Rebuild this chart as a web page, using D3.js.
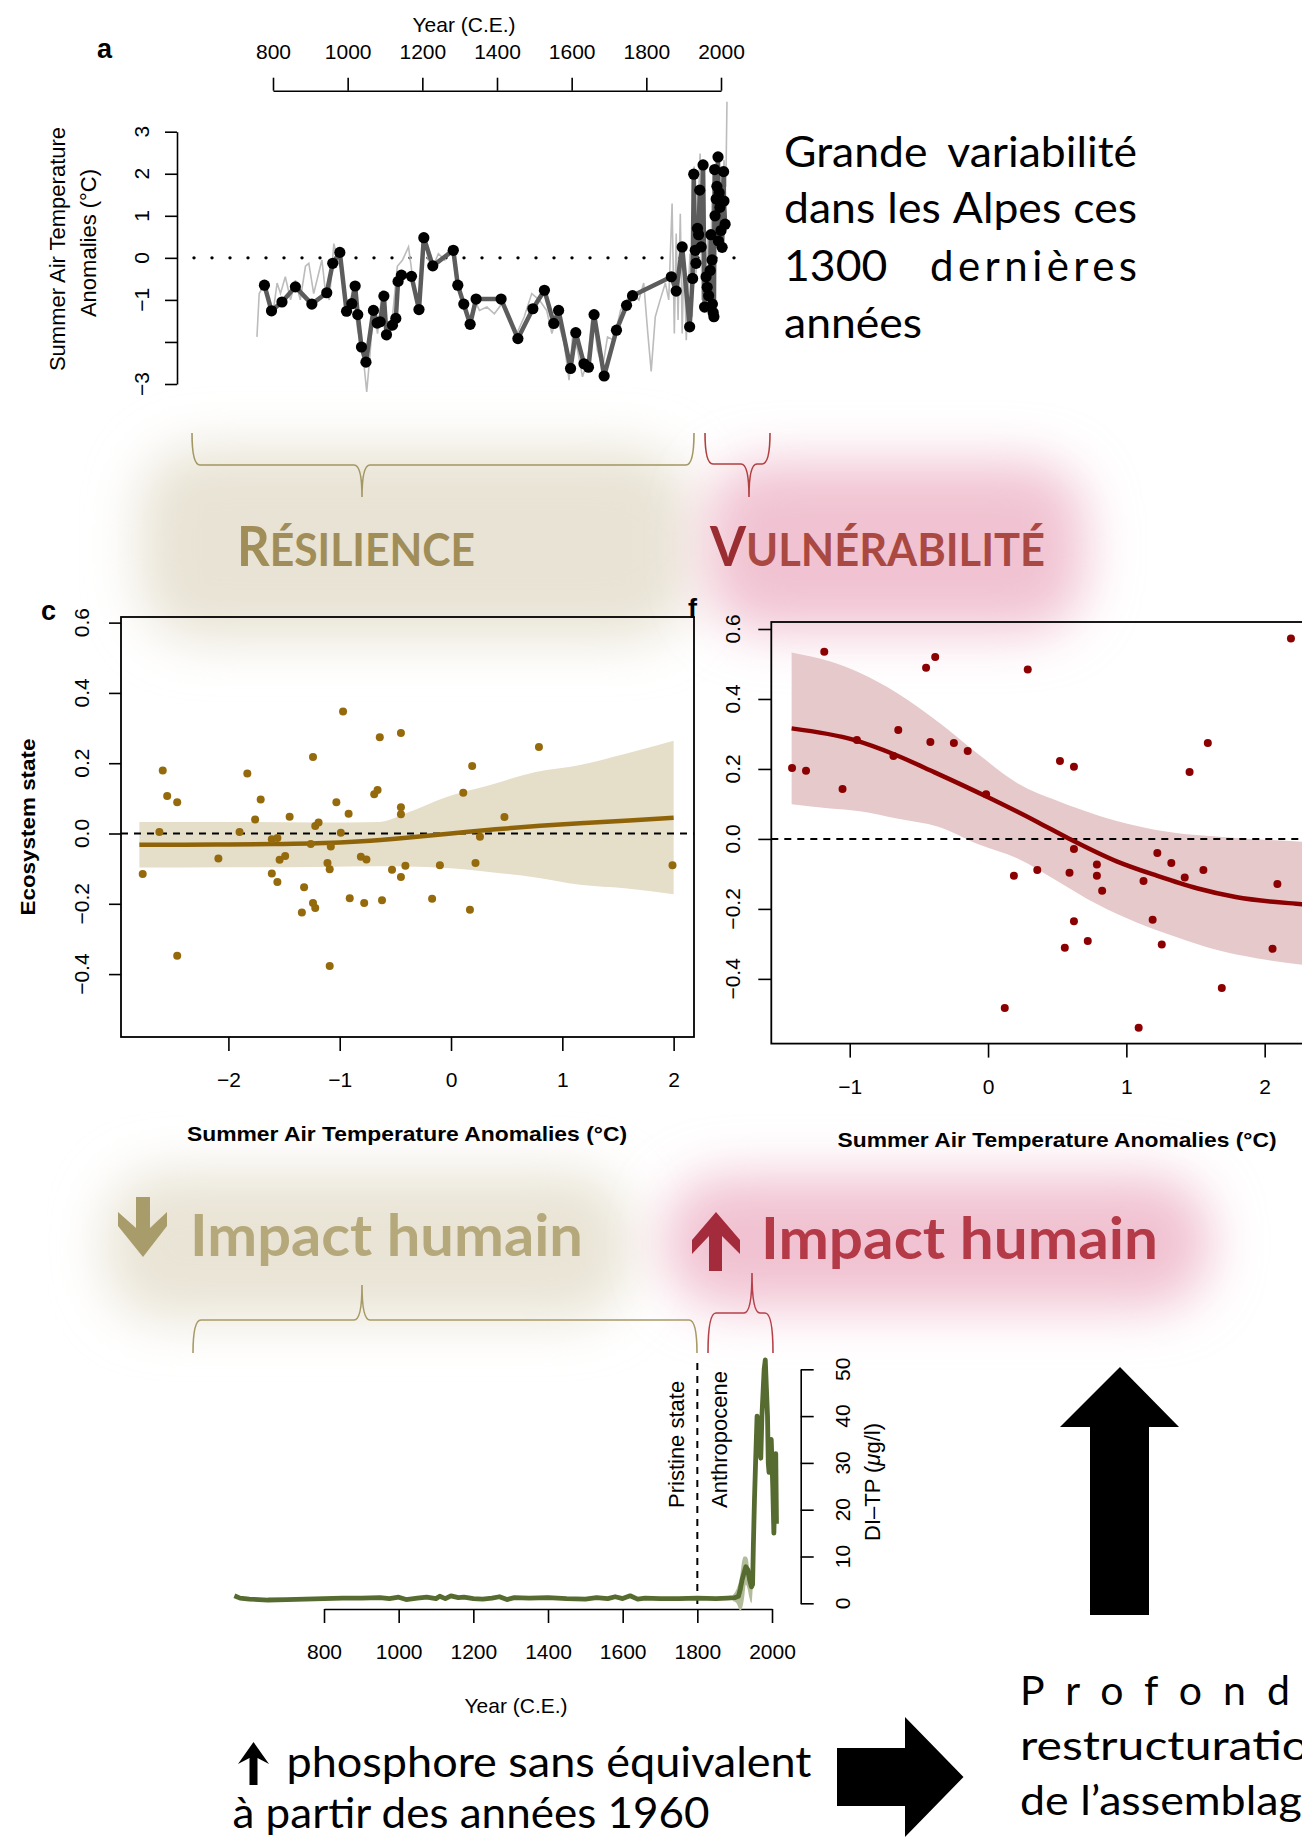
<!DOCTYPE html>
<html>
<head>
<meta charset="utf-8">
<script src="https://cdn.jsdelivr.net/npm/d3@7"></script>
<style>
  body { margin: 0; background: #fff; }
  svg text { font-family: "Liberation Sans", Arial, sans-serif; }
  svg .cal, svg .cal text { font-family: Lato, "Open Sans", sans-serif; }
</style>
</head>
<body>
<svg id="fig" width="1302" height="1847"></svg>
<script>
// --------------------
// Data
// --------------------

// panel a : summer air temperature anomalies (black dots = chironomid record)
const yearTicks = [800, 1000, 1200, 1400, 1600, 1800, 2000];
const tempTicks = [3, 2, 1, 0, -1, -2, -3];
const tempTickLabels = ["3", "2", "1", "0", "−1", "", "−3"];

const tempYears = [777,796,824,860,904,944,960,979,997,1011,1020,1027,1037,1049,1069,1079,1087,1097,1104,1120,
  1129,1135,1144,1171,1191,1204,1228,1283,1295,1311,1328,1344,1411,1456,1496,1527,1552,1565,1597,1611,
  1633,1645,1660,1687,1720,1747,1763,1867,1880,1896,1916,1924,1927,1931,1933,1937,1940,1943,1947,1952,
  1956,1960,1963,1967,1971,1973,1976,1977,1979,1981,1983,1984,1987,1989,1992,1993,1995,1997,2000,2003,
  2007,2008,2011];
const tempVals = [-0.65,-1.26,-1.05,-0.69,-1.10,-0.83,-0.13,0.13,-1.27,-1.09,-0.67,-1.35,-2.12,-2.48,-1.25,-1.55,-1.52,-0.91,-1.83,-1.60,
  -1.44,-0.56,-0.41,-0.44,-1.23,0.48,-0.19,0.18,-0.65,-1.10,-1.58,-0.98,-0.98,-1.92,-1.21,-0.77,-1.56,-1.25,-2.63,-1.78,
  -2.52,-2.60,-1.35,-2.81,-1.72,-1.13,-0.90,-0.45,-0.79,0.26,-1.64,-0.49,1.99,0.18,-0.13,0.70,0.55,1.61,0.26,2.21,
  -1.17,-0.45,-0.70,-0.90,-0.30,0.55,-0.05,-1.10,-1.30,-1.40,2.10,1.00,1.40,1.70,2.40,0.40,1.55,1.20,0.65,0.25,
  2.05,1.35,0.80];

// light grey instrumental / high resolution record
const rawYears = [757,763,773,787,800,811,820,833,847,860,873,887,896,909,920,931,940,951,963,973,
  987,1000,1013,1027,1040,1051,1060,1069,1080,1093,1107,1120,1133,1147,1163,1176,1189,1203,1216,1229,
  1243,1260,1273,1287,1300,1313,1327,1340,1353,1373,1393,1413,1433,1453,1473,1493,1513,1533,1547,1560,
  1580,1593,1603,1616,1629,1643,1656,1669,1683,1696,1713,1731,1747,1763,1780,1793,1804,1813,1824,1837,
  1851,1860,1869,1875,1880,1885,1891,1896,1901,1907,1912,1917,1923,1928,1933,1939,1944,1949,1955,1960,
  1965,1971,1976,1981,1987,1992,1997,2003,2008,2013,2016];
const rawVals = [-1.88,-0.85,-0.69,-1.0,-1.3,-0.6,-0.85,-0.45,-1.0,-0.53,-1.0,-0.2,-0.13,-0.85,-0.45,-0.05,-0.77,-1.0,0.34,-0.05,
  -0.37,-1.4,-0.77,-1.72,-2.2,-3.19,-2.28,-1.17,-1.8,-0.77,-1.96,-1.4,-0.2,-0.05,0.26,-0.6,-1.25,0.58,-0.05,-0.2,
  0.1,-0.05,0.26,0.02,-0.77,-1.25,-1.48,-1.0,-1.25,-1.17,-1.33,-1.09,-1.48,-1.8,-1.4,-0.85,-1.0,-1.25,-1.8,-1.4,
  -2.04,-2.91,-1.8,-2.2,-2.83,-2.44,-1.25,-2.2,-2.6,-1.88,-1.96,-1.25,-1.0,-0.85,-1.0,-0.6,-1.8,-2.7,-1.4,-1.0,
  -0.6,-1.0,1.29,-1.8,0.58,-1.48,1.05,-1.8,0.1,-1.96,-0.85,0.1,-1.4,2.17,-0.37,1.21,2.48,-1.0,1.69,-0.6,
  0.58,-1.0,1.37,-0.37,1.77,0.58,2.17,1.21,2.33,1.69,3.71];

// panel c : ecosystem state vs temperature, pre-1800 (resilience)
const stateTicks = [-0.4, -0.2, 0, 0.2, 0.4, 0.6];
const anomTicksC = [-2, -1, 0, 1, 2];
const cTemp = [-2.77,-2.62,-2.59,-2.55,-2.46,-2.46,-2.09,-1.90,-1.83,-1.76,-1.71,-1.61,-1.61,-1.56,-1.56,-1.54,-1.49,-1.45,-1.32,-1.34,
  -1.26,-1.24,-1.24,-1.22,-1.22,-1.19,-1.11,-1.09,-1.08,-1.09,-1.03,-0.99,-0.97,-0.92,-0.91,-0.81,-0.78,-0.76,-0.69,-0.66,
  -0.64,-0.62,-0.53,-0.45,-0.45,-0.45,-0.45,-0.41,-0.17,-0.10,0.11,0.17,0.19,0.22,0.26,0.48,0.79,1.99];
const cState = [-0.115,0.004,0.179,0.107,0.089,-0.348,-0.071,0.004,0.171,0.040,0.097,-0.114,-0.016,-0.013,-0.138,-0.075,-0.064,0.048,-0.153,-0.225,
  -0.030,0.218,-0.198,-0.212,0.021,0.031,-0.084,-0.102,-0.037,-0.377,0.089,0.002,0.347,0.056,-0.184,-0.066,-0.198,-0.074,0.112,0.124,
  0.274,-0.190,-0.103,0.286,0.075,0.055,-0.124,-0.092,-0.186,-0.090,0.116,-0.217,0.192,-0.084,-0.009,0.047,0.246,-0.090];
const cFitX = [-2.8,-2.4,-2.0,-1.6,-1.2,-0.8,-0.4,0,0.4,0.8,1.2,1.6,2.0];
const cFitY = [-0.032,-0.032,-0.031,-0.030,-0.028,-0.022,-0.012,0.0,0.012,0.022,0.030,0.037,0.045];
const cBandX = [-2.8,-2.0,-1.2,-0.64,-0.4,-0.04,0.36,0.76,1.16,1.56,2.0];
const cBandHi = [0.033,0.033,0.031,0.033,0.058,0.104,0.139,0.175,0.195,0.226,0.264];
const cBandLo = [-0.097,-0.096,-0.095,-0.093,-0.094,-0.098,-0.110,-0.125,-0.146,-0.156,-0.173];

// panel f : ecosystem state vs temperature, post-1800 (vulnerability)
const anomTicksF = [-1, 0, 1, 2];
const fTemp = [-1.417,-1.316,-1.184,-1.052,-0.948,-0.684,-0.649,-0.448,-0.417,-0.382,-0.247,-0.147,-0.014,0.121,0.187,0.287,0.356,0.520,0.555,0.589,
  0.621,0.621,0.621,0.721,0.787,0.787,0.825,1.089,1.124,1.190,1.224,1.256,1.325,1.422,1.457,1.557,1.589,1.690,2.057,2.092,2.190];
const fState = [0.203,0.195,0.535,0.143,0.283,0.237,0.311,0.489,0.277,0.520,0.274,0.251,0.128,-0.483,-0.105,0.484,-0.089,0.223,-0.311,-0.097,
  0.206,-0.029,-0.235,-0.292,-0.073,-0.105,-0.148,-0.540,-0.120,-0.231,-0.040,-0.302,-0.069,-0.110,0.191,-0.089,0.274,-0.426,-0.314,-0.129,0.573];
const fFitX = [-1.42,-0.97,-0.68,-0.39,0,0.36,0.59,0.93,1.22,1.51,1.79,2.28,2.4];
const fFitY = [0.316,0.283,0.242,0.191,0.119,0.048,0.0,-0.064,-0.105,-0.141,-0.166,-0.187,-0.191];
const fBandX = [-1.42,-1.14,-0.94,-0.65,-0.36,-0.07,0.21,0.50,0.79,1.07,1.36,1.65,1.94,2.28,2.4];
const fBandHi = [0.533,0.507,0.477,0.415,0.334,0.242,0.160,0.109,0.068,0.038,0.017,0.007,-0.001,-0.008,-0.010];
const fBandLo = [0.099,0.087,0.080,0.058,0.035,-0.015,-0.055,-0.120,-0.187,-0.238,-0.280,-0.317,-0.341,-0.360,-0.365];

// bottom panel : diatom-inferred total phosphorus
const tpTicks = [0, 10, 20, 30, 40, 50];
const tpYears = [560,575,600,650,700,750,800,850,900,950,975,1000,1020,1050,1075,1100,1110,1125,1140,1160,
  1175,1200,1225,1250,1270,1290,1310,1350,1400,1450,1500,1530,1560,1580,1600,1620,1640,1660,1700,1750,
  1800,1850,1880,1900,1910,1915,1920,1925,1930,1935,1940,1945,1948,1950,1953,1956,1960,1963,1966,1970,
  1973,1976,1979,1982,1985,1988,1990,1992,1995,1998,2002,2005,2008,2010,2012];
const tpVals = [1.6,1.1,0.9,0.7,0.8,0.9,1.0,1.1,1.1,1.2,1.0,1.3,0.8,1.1,1.3,1.0,1.5,1.0,1.6,1.2,
  1.3,1.0,0.9,1.1,1.4,0.8,1.2,1.1,1.2,1.0,0.9,1.2,1.0,1.4,1.0,1.6,0.9,1.1,1.0,1.0,
  1.1,1.0,1.1,1.2,1.5,3,5,6.5,7.8,7.2,5,3.5,4,12,22,30,40,38,33,31,
  40,45,50,52,46,40,30,28,32,35,25,15,25,32,17];
const tpBandYears = [1895,1905,1915,1920,1925,1930,1935,1940,1945,1950];
const tpBandLo = [0.5,0,-1.5,-1,1,4,3,1,0,6];
const tpBandHi = [1.8,3,6,9,10,10,9.5,7,6,14];

// --------------------
// Drawing
// --------------------
const svg = d3.select("#fig");
const defs = svg.append("defs");
defs.append("filter").attr("id", "soft")
  .attr("x", "-50%").attr("y", "-80%").attr("width", "200%").attr("height", "260%")
  .append("feGaussianBlur").attr("stdDeviation", 26);

// soft coloured glows behind the labels
const glows = [
  { x: 140, y: 448, w: 550, h: 192, c: "#e8e3d4" },
  { x: 705, y: 462, w: 380, h: 170, c: "#f1c3d2" },
  { x: 105, y: 1172, w: 525, h: 148, c: "#e9e4d5" },
  { x: 665, y: 1176, w: 545, h: 132, c: "#f1c2d1" }
];
svg.append("g").selectAll("rect").data(glows).join("rect")
  .attr("x", d => d.x).attr("y", d => d.y).attr("width", d => d.w).attr("height", d => d.h)
  .attr("rx", 60).attr("fill", d => d.c).attr("filter", "url(#soft)");

function rAxis(g) {
  g.attr("font-size", 21).attr("font-family", "'Liberation Sans', Arial, sans-serif");
  g.selectAll("line").attr("stroke", "#000").attr("stroke-width", 1.6);
  g.select(".domain").attr("stroke", "#000").attr("stroke-width", 1.6);
  g.selectAll("text").attr("fill", "#000");
}

function rotLabels(ticks, fmt, xBase, scale, size) {
  svg.append("g").selectAll("text").data(ticks).join("text")
    .attr("transform", d => `translate(${xBase},${scale(d)}) rotate(-90)`)
    .attr("text-anchor", "middle").attr("font-size", size || 21)
    .text(fmt);
}

function vText(x, y, txt, size, opts) {
  const t = svg.append("text")
    .attr("transform", `translate(${x},${y}) rotate(-90)`)
    .attr("text-anchor", (opts && opts.anchor) || "middle")
    .attr("font-size", size)
    .attr("font-weight", (opts && opts.bold) ? "bold" : null)
    .text(txt);
  if (opts && opts.len) t.attr("textLength", opts.len).attr("lengthAdjust", "spacingAndGlyphs");
  return t;
}

const fmt1 = v => (v < 0 ? "−" : "") + Math.abs(v).toFixed(1);
const fmt0 = v => (v < 0 ? "−" : "") + Math.abs(v);

// braces
function brace(x1, x2, xm, yEnd, yMid, yTip, color) {
  const r = 8;
  const p = `M${x1},${yEnd} Q${x1},${yMid} ${x1 + r},${yMid} L${xm - r},${yMid} ` +
            `Q${xm},${yMid} ${xm},${yTip} Q${xm},${yMid} ${xm + r},${yMid} ` +
            `L${x2 - r},${yMid} Q${x2},${yMid} ${x2},${yEnd}`;
  svg.append("path").attr("d", p).attr("fill", "none").attr("stroke", color).attr("stroke-width", 1.6);
}
brace(192, 694, 362, 433, 465, 497, "#a39762");
brace(705, 770, 749, 433, 464, 497, "#b0403f");
brace(193, 697, 362, 1353, 1320, 1285, "#a89a66");
brace(708, 773, 752, 1353, 1313, 1273, "#b5404a");

// big headline labels
const res = svg.append("text").attr("class", "cal").attr("x", 237).attr("y", 566)
  .attr("font-weight", "bold").attr("fill", "#a08d58")
  .attr("textLength", 238).attr("lengthAdjust", "spacingAndGlyphs");
res.append("tspan").attr("font-size", 55).text("R");
res.append("tspan").attr("font-size", 46).text("ÉSILIENCE");

const vul = svg.append("text").attr("class", "cal").attr("x", 710).attr("y", 566)
  .attr("font-weight", "bold")
  .attr("textLength", 335).attr("lengthAdjust", "spacingAndGlyphs");
vul.append("tspan").attr("font-size", 55).attr("fill", "#9a2d32").text("V");
vul.append("tspan").attr("font-size", 46).attr("fill", "#aa4942").text("ULNÉRABILITÉ");

svg.append("path").attr("fill", "#a99c6b")
  .attr("d", "M136,1197 L150,1197 L150,1228 L167,1212 L167,1226 L143,1257 L118,1226 L118,1212 L136,1228 Z");
svg.append("text").attr("class", "cal").attr("x", 190).attr("y", 1256)
  .attr("font-size", 57).attr("font-weight", "bold").attr("fill", "#b5a97b")
  .attr("textLength", 393).attr("lengthAdjust", "spacingAndGlyphs").text("Impact humain");

svg.append("path").attr("fill", "#a42b3b")
  .attr("d", "M716,1212 L740,1240 L740,1254 L722,1236 L722,1271 L709,1271 L709,1236 L692,1254 L692,1240 Z");
svg.append("text").attr("class", "cal").attr("x", 761).attr("y", 1259)
  .attr("font-size", 57).attr("font-weight", "bold").attr("fill", "#b43a48")
  .attr("textLength", 397).attr("lengthAdjust", "spacingAndGlyphs").text("Impact humain");

// --------------------
// Panel a
// --------------------
const ax = d3.scaleLinear().domain([800, 2000]).range([273, 721]);
const ay = d3.scaleLinear().domain([-3, 3]).range([384, 131.7]);

svg.append("g").attr("transform", "translate(0,90.7)")
  .call(d3.axisTop(ax).tickValues(yearTicks).tickSize(13).tickSizeOuter(0).tickPadding(19).tickFormat(d3.format("d")))
  .call(rAxis);
svg.append("g").attr("transform", "translate(177,0)")
  .call(d3.axisLeft(ay).tickValues(tempTicks).tickSize(12).tickSizeOuter(0).tickFormat(() => ""))
  .call(rAxis);
rotLabels(tempTicks, (d, i) => tempTickLabels[i], 149, ay);

svg.append("line").attr("x1", 194).attr("x2", 736).attr("y1", ay(0)).attr("y2", ay(0))
  .attr("stroke", "#000").attr("stroke-width", 3.4).attr("stroke-linecap", "round").attr("stroke-dasharray", "0 18");

svg.append("path").datum(d3.range(rawYears.length))
  .attr("d", d3.line().x(i => ax(rawYears[i])).y(i => ay(rawVals[i])))
  .attr("fill", "none").attr("stroke", "#bcbcbc").attr("stroke-width", 1.6);
svg.append("path").datum(d3.range(tempYears.length))
  .attr("d", d3.line().x(i => ax(tempYears[i])).y(i => ay(tempVals[i])))
  .attr("fill", "none").attr("stroke", "#5c5c5c").attr("stroke-width", 4.5).attr("stroke-linejoin", "round");
svg.append("g").selectAll("circle").data(d3.range(tempYears.length)).join("circle")
  .attr("cx", i => ax(tempYears[i])).attr("cy", i => ay(tempVals[i])).attr("r", 5.6).attr("fill", "#000");

svg.append("text").attr("x", 464).attr("y", 32).attr("text-anchor", "middle").attr("font-size", 21).text("Year (C.E.)");
svg.append("text").attr("x", 97).attr("y", 58).attr("font-size", 27).attr("font-weight", "bold").text("a");
vText(65, 249, "Summer Air Temperature", 22);
vText(96, 243, "Anomalies (°C)", 22);

// right-hand text block, justified word by word (glyphs widened a little, Calibri-like)
function justifyLine(words, x0, x1, y, spread, fixed) {
  const g = svg.append("g").attr("class", "cal").attr("font-size", 42).attr("fill", "#000");
  const nodes = words.map(w => g.append("text").attr("y", y).text(w));
  const widths = nodes.map((n, i) => {
    if (fixed && fixed[i]) {
      n.attr("textLength", fixed[i]).attr("lengthAdjust", "spacing");
      return fixed[i];
    }
    const w = n.node().getComputedTextLength() * 1.06;
    n.attr("textLength", w).attr("lengthAdjust", "spacingAndGlyphs");
    return w;
  });
  const gap = (spread && words.length > 1) ? (x1 - x0 - d3.sum(widths)) / (words.length - 1) : 10;
  let x = x0;
  nodes.forEach((n, i) => { n.attr("x", x); x += widths[i] + gap; });
}
justifyLine(["Grande", "variabilité"], 784, 1137, 167, true);
justifyLine(["dans", "les", "Alpes", "ces"], 784, 1137, 223, true);
justifyLine(["1300", "dernières"], 784, 1137, 281, true, [null, 207]);
justifyLine(["années"], 784, 1137, 338, false);

// --------------------
// Panel c
// --------------------
const cx = d3.scaleLinear().domain([-2.965, 2.183]).range([121, 694]);
const cy = d3.scaleLinear().domain([-0.579, 0.616]).range([1037, 617]);

svg.append("path").datum(d3.range(cBandX.length))
  .attr("d", d3.area().curve(d3.curveMonotoneX).x(i => cx(cBandX[i])).y0(i => cy(cBandLo[i])).y1(i => cy(cBandHi[i])))
  .attr("fill", "#e5dec9");
svg.append("line").attr("x1", 121).attr("x2", 694).attr("y1", cy(0)).attr("y2", cy(0))
  .attr("stroke", "#000").attr("stroke-width", 2).attr("stroke-dasharray", "7 6");
svg.append("path").datum(d3.range(cFitX.length))
  .attr("d", d3.line().curve(d3.curveMonotoneX).x(i => cx(cFitX[i])).y(i => cy(cFitY[i])))
  .attr("fill", "none").attr("stroke", "#8f6408").attr("stroke-width", 4.5);
svg.append("g").selectAll("circle").data(d3.range(cTemp.length)).join("circle")
  .attr("cx", i => cx(cTemp[i])).attr("cy", i => cy(cState[i])).attr("r", 4).attr("fill", "#946a0c");
svg.append("rect").attr("x", 121).attr("y", 617).attr("width", 573).attr("height", 420)
  .attr("fill", "none").attr("stroke", "#000").attr("stroke-width", 1.8);

svg.append("g").attr("transform", "translate(121,0)")
  .call(d3.axisLeft(cy).tickValues(stateTicks).tickSize(12).tickFormat(() => ""))
  .call(rAxis).call(g => g.select(".domain").remove());
svg.append("g").attr("transform", "translate(0,1037)")
  .call(d3.axisBottom(cx).tickValues(anomTicksC).tickSize(14).tickPadding(21).tickFormat(fmt0))
  .call(rAxis).call(g => g.select(".domain").remove());
rotLabels(stateTicks, fmt1, 89, cy);

svg.append("text").attr("x", 407).attr("y", 1141).attr("text-anchor", "middle")
  .attr("font-size", 21).attr("font-weight", "bold")
  .attr("textLength", 440).attr("lengthAdjust", "spacingAndGlyphs")
  .text("Summer Air Temperature Anomalies (°C)");
vText(35, 827, "Ecosystem state", 21, { bold: true, len: 177 });
svg.append("text").attr("x", 41).attr("y", 620).attr("font-size", 27).attr("font-weight", "bold").text("c");

// --------------------
// Panel f
// --------------------
const fx = d3.scaleLinear().domain([-1.567, 2.4]).range([771.3, 1320]);
const fy = d3.scaleLinear().domain([-0.585, 0.62]).range([1043.6, 622]);

svg.append("path").datum(d3.range(fBandX.length))
  .attr("d", d3.area().curve(d3.curveMonotoneX).x(i => fx(fBandX[i])).y0(i => fy(fBandLo[i])).y1(i => fy(fBandHi[i])))
  .attr("fill", "#e6c9ca");
svg.append("line").attr("x1", 771.3).attr("x2", 1320).attr("y1", fy(0)).attr("y2", fy(0))
  .attr("stroke", "#000").attr("stroke-width", 2).attr("stroke-dasharray", "7 6");
svg.append("path").datum(d3.range(fFitX.length))
  .attr("d", d3.line().curve(d3.curveMonotoneX).x(i => fx(fFitX[i])).y(i => fy(fFitY[i])))
  .attr("fill", "none").attr("stroke", "#8b0000").attr("stroke-width", 4.5);
svg.append("g").selectAll("circle").data(d3.range(fTemp.length)).join("circle")
  .attr("cx", i => fx(fTemp[i])).attr("cy", i => fy(fState[i])).attr("r", 4).attr("fill", "#8b0000");
svg.append("rect").attr("x", 771.3).attr("y", 622).attr("width", 560).attr("height", 421.6)
  .attr("fill", "none").attr("stroke", "#000").attr("stroke-width", 1.8);

svg.append("g").attr("transform", "translate(771.3,0)")
  .call(d3.axisLeft(fy).tickValues(stateTicks).tickSize(13).tickFormat(() => ""))
  .call(rAxis).call(g => g.select(".domain").remove());
svg.append("g").attr("transform", "translate(0,1043.6)")
  .call(d3.axisBottom(fx).tickValues(anomTicksF).tickSize(14).tickPadding(21).tickFormat(fmt0))
  .call(rAxis).call(g => g.select(".domain").remove());
rotLabels(stateTicks, fmt1, 740, fy);

svg.append("text").attr("x", 1057).attr("y", 1147).attr("text-anchor", "middle")
  .attr("font-size", 21).attr("font-weight", "bold")
  .attr("textLength", 439).attr("lengthAdjust", "spacingAndGlyphs")
  .text("Summer Air Temperature Anomalies (°C)");
svg.append("text").attr("x", 688).attr("y", 618).attr("font-size", 27).attr("font-weight", "bold").text("f");

// --------------------
// Bottom panel : DI-TP
// --------------------
const px = d3.scaleLinear().domain([800, 2000]).range([324, 772]);
const py = d3.scaleLinear().domain([0, 50]).range([1603.3, 1369.3]);

svg.append("g").attr("transform", "translate(0,1609)")
  .call(d3.axisBottom(px).tickValues(yearTicks).tickSize(14).tickSizeOuter(0).tickPadding(21).tickFormat(d3.format("d")))
  .call(rAxis);
svg.append("g").attr("transform", "translate(800.7,0)")
  .call(d3.axisRight(py).tickValues(tpTicks).tickSize(13).tickSizeOuter(0).tickFormat(() => ""))
  .call(rAxis);
rotLabels(tpTicks, d => String(d), 850, py);

svg.append("line").attr("x1", px(1800)).attr("x2", px(1800)).attr("y1", 1363).attr("y2", 1610)
  .attr("stroke", "#000").attr("stroke-width", 2).attr("stroke-dasharray", "7 6");

svg.append("path").datum(d3.range(tpBandYears.length))
  .attr("d", d3.area().curve(d3.curveMonotoneX).x(i => px(tpBandYears[i])).y0(i => py(tpBandLo[i])).y1(i => py(tpBandHi[i])))
  .attr("fill", "#b2bc9b");
svg.append("path").datum(d3.range(tpYears.length))
  .attr("d", d3.line().x(i => px(tpYears[i])).y(i => py(tpVals[i])))
  .attr("fill", "none").attr("stroke", "#566b2f").attr("stroke-width", 4.8).attr("stroke-linejoin", "round");

vText(684, 1508, "Pristine state", 22, { anchor: "start" });
vText(727, 1508, "Anthropocene", 22, { anchor: "start" });
const tpLab = svg.append("text").attr("transform", "translate(880,1482) rotate(-90)")
  .attr("text-anchor", "middle").attr("font-size", 22);
tpLab.append("tspan").text("DI–TP (");
tpLab.append("tspan").attr("font-style", "italic").text("μ");
tpLab.append("tspan").text("g/l)");
svg.append("text").attr("x", 516).attr("y", 1713).attr("text-anchor", "middle").attr("font-size", 21).text("Year (C.E.)");

// big black arrows
svg.append("path").attr("fill", "#000")
  .attr("d", "M1120,1367 L1179,1427 L1149,1427 L1149,1615 L1090,1615 L1090,1427 L1060,1427 Z");
svg.append("path").attr("fill", "#000")
  .attr("d", "M837,1748 L905,1748 L905,1717 L963.5,1777 L905,1837 L905,1806 L837,1806 Z");

// bottom text
svg.append("path").attr("fill", "#000")
  .attr("d", "M253.5,1742 L269,1764 L257.5,1758 L257.5,1785 L249.5,1785 L249.5,1758 L238,1764 Z");
svg.append("text").attr("class", "cal").attr("x", 286.5).attr("y", 1777).attr("font-size", 42)
  .attr("textLength", 525).attr("lengthAdjust", "spacingAndGlyphs").text("phosphore sans équivalent");
svg.append("text").attr("class", "cal").attr("x", 232.5).attr("y", 1828).attr("font-size", 42)
  .attr("textLength", 477).attr("lengthAdjust", "spacingAndGlyphs").text("à partir des années 1960");

svg.append("text").attr("class", "cal").attr("x", 1020).attr("y", 1705).attr("font-size", 41)
  .attr("letter-spacing", 21).text("Profonde");
svg.append("text").attr("class", "cal").attr("x", 1020).attr("y", 1760).attr("font-size", 41)
  .attr("textLength", 316).attr("lengthAdjust", "spacingAndGlyphs").text("restructuration");
svg.append("text").attr("class", "cal").attr("x", 1020).attr("y", 1815).attr("font-size", 41)
  .attr("textLength", 305).attr("lengthAdjust", "spacingAndGlyphs").text("de l’assemblage");
</script>
</body>
</html>
